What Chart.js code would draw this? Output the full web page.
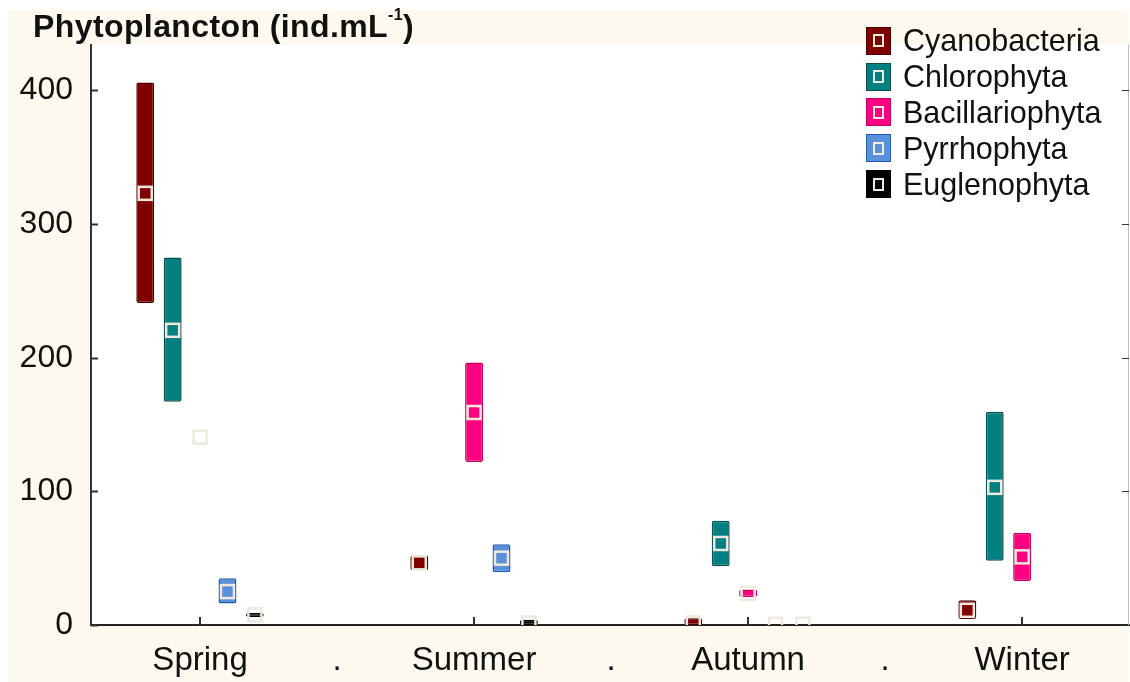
<!DOCTYPE html>
<html>
<head>
<meta charset="utf-8">
<script src="https://cdn.jsdelivr.net/npm/chart.js@4.4.0/dist/chart.umd.min.js"></script>
<style>
  body { margin: 0; background: #fff; font-family: 'Liberation Sans', Arial, sans-serif; }
  #wrap { position: relative; width: 1130px; height: 682px; }
  #title { position: absolute; left: 33px; top: 8px; font-weight: bold; font-size: 32px; color: #111; white-space: nowrap; letter-spacing: 0.4px; }
  #title sup { font-size: 16px; position: relative; top: -5px; }
  #legend { position: absolute; left: 866px; top: 23px; }
  .item { display: flex; align-items: center; height: 35.8px; font-size: 30.5px; color: #111; white-space: nowrap; }
  .box { width: 23px; height: 26px; border: 1.5px solid; margin-right: 12px; display: flex; align-items: center; justify-content: center; }
  .box span { width: 7px; height: 9px; border: 2px solid #f1ece0; }
</style>
</head>
<body>
<div id="wrap">
  <canvas id="chart"></canvas>
  <div id="title">Phytoplancton (ind.mL<sup>-1</sup>)</div>
  <div id="legend"></div>
</div>
<script>
// seasons on the x axis, dots sit half way between them
const seasons = ['Spring', 'Summer', 'Autumn', 'Winter'];
const yTicks = [0, 100, 200, 300, 400];

const groups = ['Cyanobacteria', 'Chlorophyta', 'Bacillariophyta', 'Pyrrhophyta', 'Euglenophyta'];
const fills = ['#800000', '#008080', '#ff0080', '#5a8fd9', '#000000'];
const edges = ['#4d0000', '#0b4d4d', '#c4005e', '#1d5db3', '#000000'];

// min / max / mean per season (null = nothing drawn)
const cyanoLow  = [241, 41, 0, 4.5];
const cyanoHigh = [406, 52, 5, 18.5];
const cyanoMean = [323, 46.5, 1.5, 11];

const chloroLow  = [167, null, 44, 48];
const chloroHigh = [275, null, 78, 159.5];
const chloroMean = [220.5, null, 61, 103];

const bacilLow  = [null, 122, 21, 33];
const bacilHigh = [null, 196.5, 26.5, 69];
const bacilMean = [140.5, 159, 23.8, 51];

const pyrrhoLow  = [16, 39.5, null, null];
const pyrrhoHigh = [35, 60.5, null, null];
const pyrrhoMean = [25, 50, 0.5, null];

const eugleLow  = [6, 0, null, null];
const eugleHigh = [9, 4, null, null];
const eugleMean = [7.6, 1.5, 0.5, null];

const lows  = [cyanoLow, chloroLow, bacilLow, pyrrhoLow, eugleLow];
const highs = [cyanoHigh, chloroHigh, bacilHigh, pyrrhoHigh, eugleHigh];
const means = [cyanoMean, chloroMean, bacilMean, pyrrhoMean, eugleMean];

// html legend
const legend = document.getElementById('legend');
groups.forEach((g, k) => {
  const row = document.createElement('div');
  row.className = 'item';
  row.innerHTML = `<div class="box" style="background:${fills[k]};border-color:${edges[k]}"><span></span></div>${g}`;
  legend.appendChild(row);
});

const datasets = groups.map((g, k) => ({
  label: g,
  data: seasons.map((s, i) => ({ x: i, y: lows[k][i] == null ? null : [lows[k][i], highs[k][i]] })),
  backgroundColor: fills[k],
  borderColor: edges[k],
  borderWidth: 1.5,
  borderSkipped: false,
  borderRadius: 2,
  categoryPercentage: 1.0,
  barPercentage: 0.655
}));

const decor = {
  id: 'decor',
  beforeDraw(chart) {
    const { ctx, chartArea: a } = chart;
    ctx.save();
    ctx.fillStyle = '#ffffff';
    ctx.fillRect(0, 0, chart.width, chart.height);
    ctx.fillStyle = '#fdf9ef';
    ctx.fillRect(8, 10, 1121, chart.height - 10);
    ctx.fillStyle = '#ffffff';
    ctx.fillRect(a.left, a.top, a.right - a.left, a.bottom - a.top);
    ctx.restore();
  },
  afterDatasetsDraw(chart) {
    const { ctx, chartArea: a, scales } = chart;
    ctx.save();
    ctx.beginPath();
    ctx.rect(a.left, a.top, a.right - a.left, a.bottom - a.top);
    ctx.clip();
    ctx.strokeStyle = '#eee9dc';
    ctx.lineWidth = 2.5;
    means.forEach((arr, k) => {
      const meta = chart.getDatasetMeta(k);
      arr.forEach((m, i) => {
        if (m == null) return;
        const x = meta.data[i].x;
        const y = scales.y.getPixelForValue(m);
        ctx.strokeRect(x - 6.5, y - 6.5, 13, 13);
      });
    });
    ctx.restore();

    // right frame and inward ticks
    ctx.save();
    ctx.strokeStyle = '#bdbdbd';
    ctx.lineWidth = 1;
    ctx.beginPath();
    ctx.moveTo(a.right - 0.5, a.top);
    ctx.lineTo(a.right - 0.5, a.bottom);
    ctx.stroke();
    ctx.strokeStyle = '#333';
    ctx.beginPath();
    scales.y.ticks.forEach((t, i) => {
      const y = Math.round(scales.y.getPixelForTick(i)) + 0.5;
      ctx.moveTo(a.right, y); ctx.lineTo(a.right - 7, y);
    });
    ctx.stroke();
    ctx.lineWidth = 1.5;
    ctx.beginPath();
    scales.y.ticks.forEach((t, i) => {
      const y = Math.round(scales.y.getPixelForTick(i)) + 0.5;
      ctx.moveTo(a.left, y); ctx.lineTo(a.left + 7, y);
    });
    ctx.lineWidth = 2;
    scales.x.ticks.forEach((t, i) => {
      if (!Number.isInteger(t.value)) return;
      const x = Math.round(scales.x.getPixelForTick(i));
      ctx.moveTo(x, a.bottom); ctx.lineTo(x, a.bottom - 8);
    });
    ctx.stroke();
    ctx.restore();
  }
};

new Chart(document.getElementById('chart'), {
  type: 'bar',
  data: { datasets },
  options: {
    responsive: true,
    maintainAspectRatio: false,
    animation: false,
    layout: { padding: { top: 45, right: 1, left: 0, bottom: 0 } },
    plugins: { legend: { display: false }, tooltip: { enabled: false } },
    scales: {
      x: {
        type: 'linear',
        offset: false,
        min: -0.398,
        max: 3.39,
        afterBuildTicks: s => { s.ticks = [0, 0.5, 1, 1.5, 2, 2.5, 3].map(v => ({ value: v })); },
        afterFit: s => { s.height = 57; },
        grid: { display: false, drawTicks: false, offset: false },
        border: { display: true, color: '#222', width: 2 },
        ticks: {
          padding: 16,
          color: '#111',
          font: { family: "'Liberation Sans', Arial, sans-serif", size: 33 },
          callback: v => Number.isInteger(v) ? seasons[v] : '.',
          maxRotation: 0,
          autoSkip: false
        }
      },
      y: {
        min: 0,
        max: 434,
        afterBuildTicks: s => { s.ticks = yTicks.map(v => ({ value: v })); },
        afterFit: s => { s.width = 91; },
        grid: { display: false, drawTicks: false },
        border: { display: true, color: '#333', width: 2 },
        ticks: {
          padding: 18,
          color: '#111',
          font: { family: "'Liberation Sans', Arial, sans-serif", size: 32 }
        }
      }
    }
  },
  plugins: [decor]
});
</script>
</body>
</html>
